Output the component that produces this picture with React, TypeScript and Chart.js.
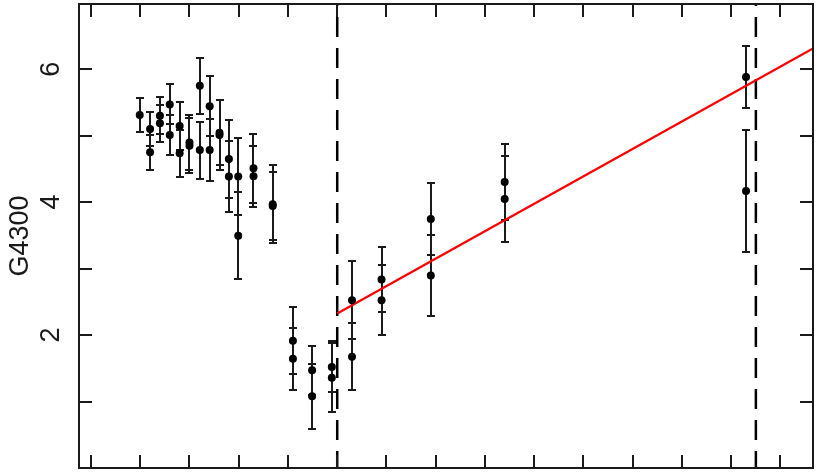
import { useEffect, useRef } from 'react';
import { Chart, registerables } from 'chart.js';

Chart.register(...registerables);

// ---- data ----
const Y_LABEL = 'G4300';
const X_MIN = -0.243;
const X_MAX = 14.66;
const Y_MIN = 0;
const Y_MAX = 6.98;
const X_TICKS = [0, 1, 2, 3, 4, 5, 6, 7, 8, 9, 10, 11, 12, 13, 14];
const Y_TICKS = [1, 2, 3, 4, 5, 6];
const Y_TICK_LABELS = ['', '2', '', '4', '', '6'];

const POINT_X = [
  0.99,
  1.2, 1.2,
  1.4, 1.4,
  1.6, 1.6,
  1.8, 1.8,
  2.0, 2.0,
  2.21, 2.21,
  2.41, 2.41,
  2.61, 2.61,
  2.8, 2.8,
  2.99, 2.99,
  3.3, 3.3,
  3.69, 3.69,
  4.1, 4.1,
  4.49, 4.49,
  4.89, 4.89,
  5.3, 5.3,
  5.9, 5.9,
  6.9, 6.9,
  8.4, 8.4,
  13.3, 13.3,
];
const POINT_Y = [
  5.31,
  5.10, 4.75,
  5.30, 5.185,
  5.47, 5.01,
  5.145, 4.733,
  4.896, 4.847,
  5.752, 4.783,
  5.443, 4.783,
  5.045, 5.011,
  4.649, 4.386,
  4.386, 3.492,
  4.509, 4.39,
  3.968, 3.943,
  1.913, 1.645,
  1.47, 1.079,
  1.521, 1.357,
  2.523, 1.674,
  2.836, 2.523,
  3.745, 2.896,
  4.301, 4.047,
  5.88, 4.167,
];
const POINT_ERR = [
  0.25,
  0.255, 0.26,
  0.275, 0.275,
  0.30, 0.305,
  0.357, 0.357,
  0.414, 0.414,
  0.422, 0.429,
  0.454, 0.472,
  0.489, 0.521,
  0.581, 0.529,
  0.576, 0.655,
  0.518, 0.457,
  0.588, 0.509,
  0.504, 0.466,
  0.372, 0.492,
  0.384, 0.521,
  0.584, 0.504,
  0.496, 0.524,
  0.539, 0.606,
  0.571, 0.651,
  0.469, 0.924,
];

const FIT_X = [5.0, 14.66];
const FIT_Y = [2.325, 6.31];
const BREAK_X = [5.0, 13.5];

const INK = '#1a1a1a';

const errorBarPlugin = {
  id: 'errorBars',
  beforeDatasetsDraw(chart: any) {
    const { ctx, scales } = chart;
    const xs = scales.x;
    const ys = scales.y;
    ctx.save();
    ctx.strokeStyle = INK;
    ctx.lineWidth = 2;
    const cap = 4;
    for (let i = 0; i < POINT_X.length; i++) {
      const px = Math.round(xs.getPixelForValue(POINT_X[i]));
      const top = Math.round(ys.getPixelForValue(POINT_Y[i] + POINT_ERR[i]));
      const bot = Math.round(ys.getPixelForValue(POINT_Y[i] - POINT_ERR[i]));
      ctx.beginPath();
      ctx.moveTo(px, top);
      ctx.lineTo(px, bot);
      ctx.moveTo(px - cap, top);
      ctx.lineTo(px + cap, top);
      ctx.moveTo(px - cap, bot);
      ctx.lineTo(px + cap, bot);
      ctx.stroke();
    }
    ctx.restore();
  },
};

const framePlugin = {
  id: 'frameTicks',
  afterDraw(chart: any) {
    const { ctx, chartArea, scales } = chart;
    const { left, right, top, bottom } = chartArea;
    const tl = 13;
    ctx.save();
    ctx.strokeStyle = INK;
    ctx.lineWidth = 2;
    ctx.beginPath();
    ctx.rect(left, top, right - left, bottom - top);
    ctx.stroke();
    ctx.lineWidth = 2;
    ctx.beginPath();
    for (const t of scales.x.ticks) {
      const px = Math.round(scales.x.getPixelForValue(t.value));
      ctx.moveTo(px, bottom);
      ctx.lineTo(px, bottom - tl);
      ctx.moveTo(px, top);
      ctx.lineTo(px, top + tl);
    }
    for (const t of scales.y.ticks) {
      const py = Math.round(scales.y.getPixelForValue(t.value));
      ctx.moveTo(left, py);
      ctx.lineTo(left + tl, py);
      ctx.moveTo(right, py);
      ctx.lineTo(right - tl, py);
    }
    ctx.stroke();
    ctx.restore();
  },
};

export default function App() {
  const ref = useRef<HTMLCanvasElement | null>(null);

  useEffect(() => {
    document.body.style.margin = '0';
    const canvas = ref.current;
    if (!canvas) return;

    const points = POINT_X.map((x, i) => ({ x, y: POINT_Y[i] }));
    const fit = FIT_X.map((x, i) => ({ x, y: FIT_Y[i] }));
    const breaks = BREAK_X.map((bx) => ({
      type: 'scatter' as const,
      data: [
        { x: bx, y: Y_MAX },
        { x: bx, y: Y_MIN },
      ],
      showLine: true,
      borderColor: '#000000',
      borderWidth: 2.5,
      borderDash: [20, 11],
      borderDashOffset: 18,
      pointRadius: 0,
      pointHoverRadius: 0,
    }));

    const chart = new Chart(canvas, {
      type: 'scatter',
      data: {
        datasets: [
          {
            data: points,
            backgroundColor: '#000000',
            borderColor: '#000000',
            pointRadius: 4,
            pointBorderWidth: 0,
          },
          {
            data: fit,
            showLine: true,
            borderColor: '#ff0000',
            borderWidth: 2.3,
            pointRadius: 0,
            pointHoverRadius: 0,
          },
          ...breaks,
        ],
      },
      options: {
        animation: false,
        responsive: false,
        devicePixelRatio: 1,
        events: [],
        layout: { padding: { top: 2, right: 2, bottom: 0, left: 0 } },
        plugins: {
          legend: { display: false },
          tooltip: { enabled: false },
        },
        scales: {
          x: {
            type: 'linear',
            position: 'bottom',
            min: X_MIN,
            max: X_MAX,
            grid: { display: false },
            border: { display: false },
            ticks: { display: false },
            afterBuildTicks: (s: any) => {
              s.ticks = X_TICKS.map((v) => ({ value: v }));
            },
            afterFit: (s: any) => {
              s.height = 2;
              s.paddingLeft = 0;
              s.paddingRight = 0;
            },
          },
          y: {
            type: 'linear',
            position: 'left',
            min: Y_MIN,
            max: Y_MAX,
            grid: { display: false, drawTicks: false },
            border: { display: false },
            title: {
              display: true,
              text: Y_LABEL,
              color: INK,
              font: { family: 'Liberation Sans', size: 27 },
              padding: { top: 4, bottom: 0 },
            },
            ticks: {
              autoSkip: false,
              minRotation: 90,
              maxRotation: 90,
              crossAlign: 'center',
              padding: 20,
              color: INK,
              font: { family: 'Liberation Sans', size: 27 },
              callback: (_v: any, i: number) => Y_TICK_LABELS[i],
            },
            afterBuildTicks: (s: any) => {
              s.ticks = Y_TICKS.map((v) => ({ value: v }));
            },
            afterFit: (s: any) => {
              s.width = 79;
              s.paddingTop = 0;
              s.paddingBottom = 0;
            },
          },
        },
      },
      plugins: [errorBarPlugin, framePlugin],
    } as any);

    return () => chart.destroy();
  }, []);

  return <canvas ref={ref} width={817} height={472} style={{ display: 'block' }} />;
}
